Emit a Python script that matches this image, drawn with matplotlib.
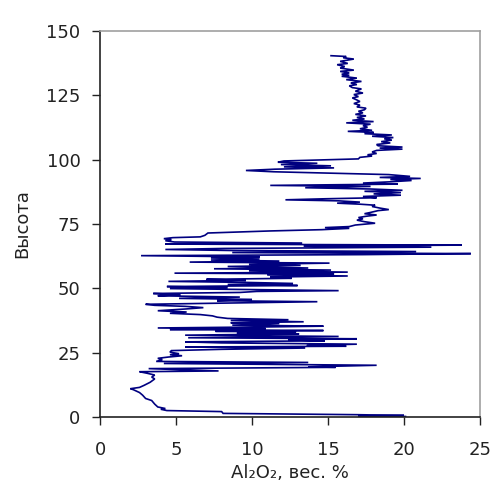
import matplotlib
matplotlib.use("Agg")
import matplotlib.pyplot as plt

# profile: Al2O3 content (wt %) vs height
height = [
    0.2, 0.4, 0.6, 0.9, 1.4, 2.1, 2.5, 3.0, 3.3, 3.9, 5.0, 6.4, 7.2, 8.5, 9.5,
    10.6, 11.0, 11.5, 12.3, 13.5, 14.8, 15.5, 16.3, 17.0, 17.6, 17.9, 18.8, 19.3,
    19.5, 20.1, 20.8, 21.2, 21.6, 22.3, 22.8, 23.3, 23.8, 24.2, 24.6, 25.2, 25.8,
    26.3, 26.8, 27.2, 27.5, 27.8, 28.3, 28.8, 29.2, 29.6, 30.0, 30.4, 30.8, 31.3,
    31.8, 32.3, 32.6, 33.0, 33.3, 33.6, 34.0, 34.3, 34.6, 35.0, 35.3, 35.7, 36.3,
    36.6, 37.0, 37.5, 37.8, 38.3, 38.8, 39.3, 39.8, 40.3, 40.8, 41.3, 42.0, 42.5,
    43.0, 43.4, 43.8, 44.2, 44.8, 45.2, 45.7, 46.1, 46.6, 47.1, 47.6, 48.0, 48.4,
    48.8, 49.1, 49.5, 49.9, 50.3, 50.7, 51.1, 51.5, 51.9, 52.3, 52.7, 53.1, 53.5,
    53.9, 54.4, 54.8, 55.2, 55.6, 55.9, 56.3, 56.8, 57.1, 57.6, 57.9, 58.5, 58.9,
    59.3, 59.8, 60.2, 60.6, 61.0, 61.4, 61.8, 62.2, 62.7, 63.1, 63.5, 63.9, 64.3,
    64.7, 65.1, 65.5, 66.0, 66.4, 66.8, 67.2, 67.6, 68.0, 68.5, 68.9, 69.3, 69.7,
    70.0, 70.6, 71.5, 72.3, 72.8, 73.3, 73.6, 74.0, 74.6, 75.3, 75.9, 76.5, 77.0,
    77.5, 78.0, 78.5, 79.0, 79.5, 80.2, 80.6, 81.2, 81.8, 82.3, 82.7, 83.1, 83.5,
    84.0, 84.4, 84.8, 85.2, 85.7, 86.2, 86.7, 87.2, 87.7, 88.1, 88.6, 89.1, 89.6,
    90.0, 90.5, 90.9, 91.4, 91.9, 92.3, 92.7, 93.1, 93.5, 94.2, 94.8, 95.3, 95.8,
    96.3, 96.8, 97.2, 97.6, 98.1, 98.6, 99.0, 99.5, 99.9, 100.3, 100.9, 101.4,
    101.9, 102.4, 103.0, 103.6, 104.1, 104.5, 104.9, 105.4, 105.9, 106.5, 107.0,
    107.6, 108.1, 108.6, 109.1, 109.6, 110.1, 110.6, 111.0, 111.4, 112.0, 112.6,
    113.2, 113.8, 114.3, 114.8, 115.3, 115.8, 116.4, 117.0, 117.6, 118.2, 118.8,
    119.4, 120.0, 120.5, 121.2, 121.8, 122.6, 123.2, 124.0, 124.5, 125.3, 125.9,
    126.6, 127.5, 128.0, 128.7, 129.2, 129.8, 130.4, 131.1, 131.7, 132.4, 132.8,
    133.2, 133.7, 134.3, 134.8, 135.6, 136.2, 136.9, 137.4, 138.2, 138.7, 139.1,
    139.6, 140.1, 140.4,
]
al2o3 = [
    20.1, 17.0, 20.0, 16.9, 8.1, 8.0, 4.4, 4.0, 4.3, 3.8, 3.6, 3.4, 3.0, 2.8, 2.6,
    2.2, 2.0, 2.6, 2.9, 3.3, 3.6, 3.4, 3.6, 3.1, 2.6, 7.8, 3.2, 15.5,
    13.7, 18.2, 4.2, 13.7, 3.7, 4.1, 3.8, 4.5, 5.4, 4.6, 5.2, 4.6, 4.7,
    8.0, 13.5, 5.6, 16.2, 13.6, 16.9, 8.0, 5.6, 14.8, 12.4, 16.9, 5.8, 15.7,
    5.6, 13.1, 9.0, 12.9, 7.6, 14.7, 4.6, 10.9, 3.8, 10.9, 14.7, 8.7, 11.8,
    8.6, 13.4, 8.6, 12.4, 8.4, 7.7, 7.4, 6.6, 4.6, 5.7, 3.8, 5.7, 6.8,
    5.6, 3.6, 3.0, 7.6, 14.3, 7.7, 10.0, 5.2, 9.2, 3.8, 5.3, 3.5, 9.2,
    10.3, 15.7, 10.3, 4.6, 8.4, 4.4, 13.0, 8.4, 12.7, 9.6, 4.5, 9.6, 7.0,
    12.6, 11.2, 16.3, 11.0, 15.4, 4.9, 16.3, 9.8, 15.2, 7.5, 13.7, 8.4, 13.2,
    9.8, 15.1, 5.9, 11.8, 7.3, 10.5, 7.3, 10.5, 2.7, 17.3, 24.4, 8.7, 20.8,
    8.7, 4.3, 8.2, 21.8, 13.4, 23.8, 4.3, 13.3, 4.9, 4.3, 4.7, 4.2, 4.8,
    6.6, 6.9, 7.1, 11.2, 14.6, 16.4, 14.8, 16.4, 16.8, 18.1, 17.4, 16.9, 17.3,
    17.0, 17.5, 18.2, 17.4, 17.8, 18.3, 19.0, 18.4, 17.9, 18.1, 17.1, 15.6, 17.1,
    15.7, 12.2, 14.8, 18.2, 17.3, 19.8, 18.0, 19.8, 17.4, 19.9, 17.8, 13.5, 17.8,
    11.2, 19.6, 17.3, 19.1, 20.5, 19.1, 21.1, 18.4, 20.4, 19.0, 14.9, 11.4, 9.6,
    11.5, 15.4, 12.1, 15.2, 11.9, 14.3, 11.7, 12.1, 14.5, 17.0, 17.1, 17.9,
    17.6, 18.2, 17.9, 18.2, 19.9, 18.4, 19.9, 18.3, 18.2, 19.1, 18.5,
    19.2, 18.7, 19.3, 17.9, 19.2, 17.4, 18.0, 16.3, 17.9, 17.1, 17.6,
    17.3, 17.8, 16.2, 18.0, 16.6, 17.4, 16.9, 17.5, 16.8, 17.3, 17.0,
    17.4, 17.5, 16.9, 17.1, 16.7, 17.1, 16.9, 16.6, 17.0, 16.7, 17.3,
    16.8, 17.2, 16.6, 16.4, 16.9, 16.5, 17.2, 16.2, 16.9, 15.9, 16.4,
    15.9, 16.4, 15.8, 16.7, 15.8, 16.1, 15.6, 16.3, 15.8, 16.3, 16.7,
    16.0, 16.2, 15.2,
]
xticks = [0, 5, 10, 15, 20, 25]
yticks = [0, 25, 50, 75, 100, 125, 150]

W, H = 494, 490
fig = plt.figure(figsize=(W / 100, H / 100), dpi=100)
ax = fig.add_axes([100 / W, 73 / H, 380 / W, 386 / H])

ax.plot(al2o3, height, color="#000080", lw=1.2, solid_joinstyle="miter")

ax.set_xlim(0, 25); ax.set_ylim(0, 150)
ax.set_xticks(xticks); ax.set_yticks(yticks)
ax.tick_params(axis="both", direction="out", length=6, width=1, colors="#222",
               labelsize=13, labelcolor="#222")
ax.tick_params(axis="x", pad=11)
ax.tick_params(axis="y", pad=8)
for s in ("left", "bottom"):
    ax.spines[s].set_color("#222"); ax.spines[s].set_linewidth(1.2)
for s in ("top", "right"):
    ax.spines[s].set_color("#a0a0a0"); ax.spines[s].set_linewidth(1.2)

ax.set_xlabel("Al₂O₂, вес. %", fontsize=13, color="#222", labelpad=4)
ax.set_ylabel("Высота", fontsize=13, color="#222", labelpad=11)

fig.savefig("out.png", dpi=100)
